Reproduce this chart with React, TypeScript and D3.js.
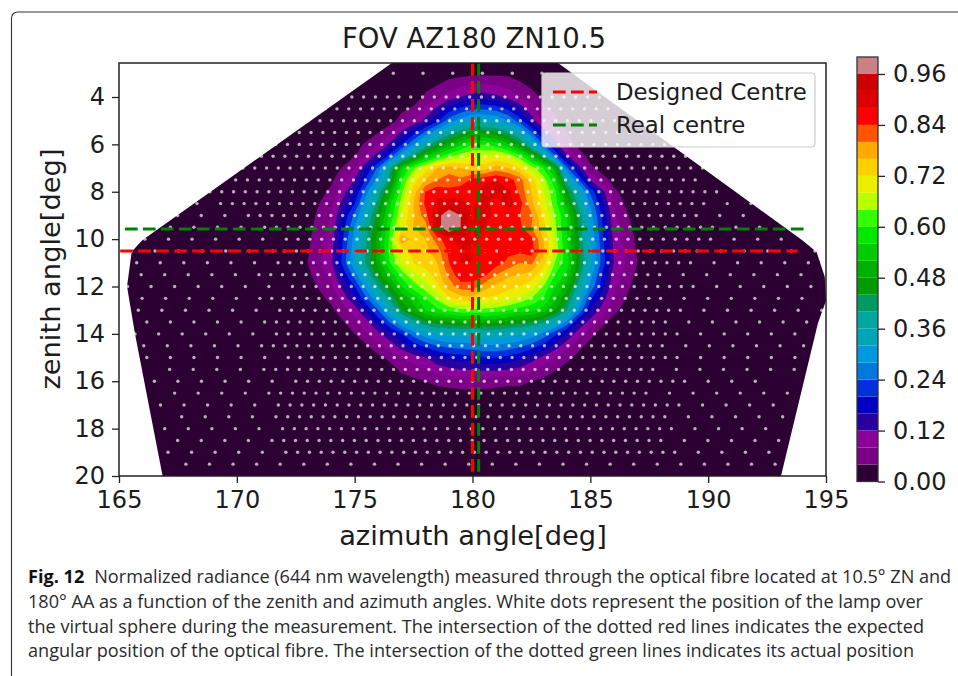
import { useEffect, useRef } from "react";
import * as d3 from "d3";

// normalized radiance; the grid is finer around the core
const gridAzimuth = [171, 172, 173, 174, 175, 176, 176.5, 177, 177.5, 178, 178.5, 179, 179.5, 180, 180.5, 181, 181.5, 182, 182.5, 183, 183.5, 184, 185, 186, 187, 188, 189];
const gridZenith = [2, 3, 4, 5, 6, 6.5, 7, 7.5, 8, 8.5, 9, 9.5, 10, 10.5, 11, 11.5, 12, 12.5, 13, 14, 15, 16, 17, 18];
const radiance = [
  [0, 0, 0, 0, 0, 0, 0, 0, 0, 0, 0, 0, 0, 0, 0, 0, 0, 0, 0, 0, 0, 0, 0, 0, 0, 0, 0],
  [0, 0, 0, 0, 0, 0, 0, 0, 0, 0, 0.01, 0.02, 0.025, 0.03, 0.03, 0.03, 0.03, 0.02, 0, 0, 0, 0, 0, 0, 0, 0, 0],
  [0, 0, 0, 0, 0, 0, 0, 0, 0.01, 0.05, 0.07, 0.1, 0.12, 0.14, 0.14, 0.13, 0.11, 0.08, 0.06, 0.03, 0.01, 0, 0, 0, 0, 0, 0],
  [0, 0, 0, 0, 0, 0, 0.02, 0.06, 0.09, 0.13, 0.19, 0.26, 0.3, 0.33, 0.33, 0.32, 0.28, 0.22, 0.14, 0.07, 0.05, 0.02, 0, 0, 0, 0, 0],
  [0, 0, 0, 0, 0.02, 0.08, 0.13, 0.2, 0.28, 0.37, 0.44, 0.5, 0.55, 0.6, 0.6, 0.58, 0.53, 0.46, 0.35, 0.24, 0.14, 0.06, 0, 0, 0, 0, 0],
  [0, 0, 0, 0, 0.04, 0.14, 0.22, 0.32, 0.42, 0.52, 0.58, 0.63, 0.66, 0.68, 0.68, 0.69, 0.67, 0.62, 0.53, 0.41, 0.25, 0.13, 0.02, 0, 0, 0, 0],
  [0, 0, 0, 0.01, 0.08, 0.25, 0.4, 0.55, 0.63, 0.7, 0.76, 0.78, 0.76, 0.74, 0.74, 0.78, 0.76, 0.72, 0.66, 0.6, 0.5, 0.25, 0.05, 0, 0, 0, 0],
  [0, 0, 0, 0.03, 0.12, 0.3, 0.42, 0.6, 0.7, 0.76, 0.8, 0.82, 0.81, 0.85, 0.87, 0.88, 0.86, 0.82, 0.74, 0.66, 0.57, 0.36, 0.12, 0.02, 0, 0, 0],
  [0, 0, 0, 0.05, 0.16, 0.38, 0.5, 0.63, 0.74, 0.84, 0.87, 0.85, 0.87, 0.87, 0.9, 0.9, 0.89, 0.83, 0.76, 0.68, 0.61, 0.46, 0.23, 0.05, 0, 0, 0],
  [0, 0, 0.01, 0.07, 0.2, 0.42, 0.55, 0.66, 0.76, 0.85, 0.89, 0.9, 0.89, 0.87, 0.9, 0.84, 0.9, 0.86, 0.77, 0.7, 0.62, 0.5, 0.27, 0.07, 0, 0, 0],
  [0, 0, 0.02, 0.08, 0.25, 0.46, 0.57, 0.68, 0.76, 0.82, 0.93, 1.02, 0.96, 0.9, 0.9, 0.87, 0.87, 0.84, 0.81, 0.72, 0.64, 0.56, 0.3, 0.09, 0.01, 0, 0],
  [0, 0, 0.025, 0.09, 0.28, 0.48, 0.6, 0.7, 0.76, 0.78, 0.93, 1.02, 0.96, 0.9, 0.88, 0.87, 0.85, 0.85, 0.8, 0.74, 0.65, 0.56, 0.31, 0.1, 0.02, 0, 0],
  [0, 0, 0.03, 0.1, 0.3, 0.5, 0.61, 0.8, 0.74, 0.76, 0.82, 0.87, 0.9, 0.89, 0.87, 0.87, 0.87, 0.86, 0.85, 0.76, 0.66, 0.56, 0.32, 0.11, 0.03, 0, 0],
  [0, 0, 0.035, 0.105, 0.31, 0.5, 0.62, 0.7, 0.73, 0.75, 0.78, 0.85, 0.88, 0.88, 0.87, 0.86, 0.85, 0.85, 0.86, 0.77, 0.67, 0.57, 0.33, 0.115, 0.035, 0, 0],
  [0, 0, 0.04, 0.11, 0.32, 0.5, 0.6, 0.68, 0.72, 0.74, 0.76, 0.84, 0.88, 0.88, 0.87, 0.86, 0.83, 0.8, 0.81, 0.74, 0.64, 0.58, 0.33, 0.12, 0.04, 0, 0],
  [0, 0, 0.03, 0.09, 0.26, 0.46, 0.54, 0.62, 0.67, 0.7, 0.74, 0.81, 0.87, 0.87, 0.85, 0.8, 0.77, 0.76, 0.74, 0.7, 0.6, 0.55, 0.3, 0.1, 0.03, 0, 0],
  [0, 0, 0.02, 0.07, 0.2, 0.4, 0.47, 0.56, 0.62, 0.66, 0.71, 0.78, 0.82, 0.82, 0.78, 0.75, 0.73, 0.72, 0.7, 0.64, 0.56, 0.5, 0.27, 0.09, 0.02, 0, 0],
  [0, 0, 0.01, 0.05, 0.15, 0.32, 0.41, 0.49, 0.54, 0.6, 0.65, 0.71, 0.74, 0.75, 0.72, 0.71, 0.7, 0.67, 0.64, 0.6, 0.53, 0.45, 0.21, 0.07, 0.01, 0, 0],
  [0, 0, 0, 0.03, 0.1, 0.24, 0.34, 0.44, 0.5, 0.56, 0.59, 0.61, 0.63, 0.63, 0.63, 0.62, 0.6, 0.58, 0.57, 0.54, 0.48, 0.4, 0.16, 0.05, 0, 0, 0],
  [0, 0, 0, 0.01, 0.04, 0.11, 0.15, 0.2, 0.26, 0.31, 0.33, 0.34, 0.34, 0.34, 0.35, 0.35, 0.34, 0.33, 0.31, 0.27, 0.21, 0.15, 0.05, 0, 0, 0, 0],
  [0, 0, 0, 0, 0.01, 0.03, 0.05, 0.08, 0.1, 0.12, 0.15, 0.17, 0.18, 0.19, 0.2, 0.2, 0.19, 0.17, 0.14, 0.11, 0.08, 0.05, 0.01, 0, 0, 0, 0],
  [0, 0, 0, 0, 0, 0, 0, 0.02, 0.03, 0.04, 0.05, 0.055, 0.06, 0.06, 0.06, 0.055, 0.05, 0.05, 0.04, 0.03, 0.01, 0, 0, 0, 0, 0, 0],
  [0, 0, 0, 0, 0, 0, 0, 0, 0, 0, 0, 0, 0, 0, 0, 0, 0, 0, 0, 0, 0, 0, 0, 0, 0, 0, 0],
  [0, 0, 0, 0, 0, 0, 0, 0, 0, 0, 0, 0, 0, 0, 0, 0, 0, 0, 0, 0, 0, 0, 0, 0, 0, 0, 0],
];

const levels = d3.range(0, 25).map((i) => i * 0.04);
const levelColors = [
  "#2d0033", "#7a0085", "#8a0098", "#2800a0", "#0000c4", "#0030dc", "#0078dc", "#0099dd", "#00a5b8",
  "#00a6a0", "#009a62", "#009c00", "#00b000", "#00cc00", "#00e800", "#33ff00", "#b8ff00", "#ecee00",
  "#ffd000", "#ffaa00", "#ff5500", "#ff0000", "#dc0000", "#cc0000", "#cb8086",
];

// outline of the measured area, [azimuth, zenith]
const hull: [number, number][] = [
  [176.58, 2.56], [166, 10.04], [165.75, 10.3], [165.54, 10.53], [165.34, 12], [165.68, 14], [166.85, 20],
  [193.09, 20], [194.66, 13.54], [195, 12.6], [194.95, 11.6], [194.6, 10.54], [193.98, 10.04], [183.63, 2.56],
];

// lamp positions: 1 deg steps outside innerStart..innerEnd, 0.5 deg inside
const topRowZenith = 3;
const topRowAzimuth = [176.64, 177.9, 179.16, 180.42, 181.69, 182.95];
const rowZenith = d3.range(4, 20, 0.5);
const rowFirst = [174.38, 173.75, 173.03, 172.65, 171.65, 171.04, 170.26, 169.95, 168.86, 168.31, 167.49, 167.18, 166.1, 165.53, 165.75, 165.94, 165.36, 165.98, 165.82, 166.18, 165.68, 166.05, 166.18, 167.15, 166.5, 167.36, 166.76, 167.66, 166.94, 167.49, 167.08, 167.84];
const rowInnerStart = [174.38, 173.75, 173.03, 172.65, 171.65, 171.04, 170.26, 169.95, 168.86, 169.31, 170.5, 171.18, 171.12, 170.57, 171.75, 170.94, 171.38, 170.98, 171.82, 171.18, 171.68, 171.06, 172.19, 171.14, 172.51, 171.37, 171.75, 171.65, 171.95, 171.49, 172.09, 192];
const rowInnerEnd = [185.4, 186.2, 186.9, 187.6, 188.3, 189.08, 189.76, 189.93, 190.38, 189.82, 189.5, 189.7, 189.63, 189.5, 189.25, 187.94, 188.88, 187.98, 188.81, 187.7, 188.67, 188.06, 188.67, 187.65, 188.52, 187.36, 188.76, 188.16, 188.45, 187.99, 188.59, 192];
const rowLast = [185.4, 186.2, 186.9, 187.6, 188.3, 189.08, 189.76, 189.93, 190.38, 191.82, 192.0, 192.7, 193.65, 194.6, 194.27, 193.96, 194.9, 193.99, 194.81, 194.71, 193.69, 194.06, 193.69, 193.66, 192.52, 193.37, 192.76, 193.16, 192.43, 193.0, 192.58, 192.86];

const xTicks = [165, 170, 175, 180, 185, 190, 195];
const yTicks = [4, 6, 8, 10, 12, 14, 16, 18, 20];
const barTicks = [0, 0.12, 0.24, 0.36, 0.48, 0.6, 0.72, 0.84, 0.96];

const designedAz = 180;
const designedZn = 10.5;
const realAz = 180.26;
const realZn = 9.57;
const designedSpan = [165.05, 193.8];
const realSpan = [165.25, 194.05];

const captionBold = "Fig. 12";
const captionLines = [
  "Normalized radiance (644 nm wavelength) measured through the optical fibre located at 10.5° ZN and",
  "180° AA as a function of the zenith and azimuth angles. White dots represent the position of the lamp over",
  "the virtual sphere during the measurement. The intersection of the dotted red lines indicates the expected",
  "angular position of the optical fibre. The intersection of the dotted green lines indicates its actual position",
];

const sans = "DejaVu Sans";
const ink = "#1c1c1c";

function lampPositions() {
  const points: [number, number][] = topRowAzimuth.map((az) => [az, topRowZenith]);
  rowZenith.forEach((zn, i) => {
    let az = rowFirst[i];
    while (az <= rowLast[i] + 0.01) {
      points.push([az, zn]);
      az += az >= rowInnerStart[i] - 0.01 && az < rowInnerEnd[i] - 0.01 ? 0.5 : 1;
    }
  });
  return points;
}

export default function App() {
  const svgRef = useRef<SVGSVGElement>(null);

  useEffect(() => {
    if (!svgRef.current) return;
    const svg = d3.select(svgRef.current);
    svg.selectAll("*").remove();

    const left = 119, right = 826, top = 63, bottom = 476;
    const x = d3.scaleLinear().domain([165, 195]).range([left, right]);
    const y = d3.scaleLinear().domain([4, 20]).range([97, bottom]);
    const barY = d3.scaleLinear().domain([0, 1]).range([481.5, 57]);
    const zenithTop = y.invert(top);

    // card border of the figure
    svg.append("path")
      .attr("d", "M11.5,676V18a6,6 0 0 1 6,-6H958")
      .attr("fill", "none").attr("stroke", "#333").attr("stroke-width", 1.1);

    svg.append("text").attr("x", 474).attr("y", 48).attr("text-anchor", "middle")
      .attr("font-family", sans).attr("font-size", 27.5).attr("fill", ink).text("FOV AZ180 ZN10.5");

    const defs = svg.append("defs");
    defs.append("clipPath").attr("id", "plot-clip").append("rect")
      .attr("x", left).attr("y", top).attr("width", right - left).attr("height", bottom - top);

    const plot = svg.append("g").attr("clip-path", "url(#plot-clip)");
    const line = d3.line<[number, number]>().x((d) => x(d[0])).y((d) => y(d[1]));

    plot.append("path").attr("d", line(hull.map(([a, z]) => [a, Math.max(z, zenithTop)])) + "Z").attr("fill", levelColors[0]);

    const nx = gridAzimuth.length, ny = gridZenith.length;
    const bands = d3.contours().size([nx, ny]).thresholds(levels.slice(1))(radiance.flat());
    // grid index -> angle, piecewise because the grid is not even
    const azAt = d3.scaleLinear().domain(d3.range(nx)).range(gridAzimuth);
    const znAt = d3.scaleLinear().domain(d3.range(ny)).range(gridZenith);
    const gridPath = d3.geoPath(d3.geoTransform({
      point(px, py) {
        this.stream.point(x(azAt(px - 0.5)), y(znAt(py - 0.5)));
      },
    }));
    plot.append("g").selectAll("path").data(bands).join("path")
      .attr("d", (d) => gridPath(d as any))
      .attr("fill", (_, i) => levelColors[i + 1]);

    plot.append("g").selectAll("circle").data(lampPositions()).join("circle")
      .attr("cx", (d) => x(d[0])).attr("cy", (d) => y(d[1])).attr("r", 1.7)
      .attr("fill", "#fff").attr("fill-opacity", 0.68);

    const dashed = (sel: any, color: string) =>
      sel.attr("stroke", color).attr("stroke-width", 3).attr("stroke-dasharray", "12.7 5.3").attr("fill", "none");

    dashed(plot.append("path").attr("d", line([[designedSpan[0], designedZn], [designedSpan[1], designedZn]])), "#ff0000");
    dashed(plot.append("path").attr("d", line([[designedAz, zenithTop], [designedAz, 20]])), "#ff0000");
    dashed(plot.append("path").attr("d", line([[realSpan[0], realZn], [realSpan[1], realZn]])), "#008000");
    dashed(plot.append("path").attr("d", line([[realAz, zenithTop], [realAz, 20]])), "#008000");

    // legend
    const legend = svg.append("g");
    legend.append("rect").attr("x", 542).attr("y", 73).attr("width", 273).attr("height", 74).attr("rx", 3.5)
      .attr("fill", "#fff").attr("fill-opacity", 0.8).attr("stroke", "#ccc").attr("stroke-width", 1.2);
    [
      { label: "Designed Centre", color: "#ff0000", ly: 92 },
      { label: "Real centre", color: "#008000", ly: 125 },
    ].forEach(({ label, color, ly }) => {
      dashed(legend.append("path").attr("d", `M553,${ly}H597`), color);
      legend.append("text").attr("x", 616).attr("y", ly + 8).attr("font-family", sans)
        .attr("font-size", 22.8).attr("fill", ink).text(label);
    });

    // axes
    const styleAxis = (g: any) => {
      g.selectAll("text").attr("font-family", sans).attr("font-size", 24).attr("fill", ink);
      g.selectAll("line").attr("stroke", "#222").attr("stroke-width", 1.3);
      g.select(".domain").remove();
    };
    svg.append("g").attr("transform", `translate(0,${bottom})`)
      .call(d3.axisBottom(x).tickValues(xTicks).tickSize(7).tickPadding(8).tickFormat(d3.format("d")) as any)
      .call(styleAxis);
    svg.append("g").attr("transform", `translate(${left},0)`)
      .call(d3.axisLeft(y).tickValues(yTicks).tickSize(7).tickPadding(7).tickFormat(d3.format("d")) as any)
      .call(styleAxis);
    svg.append("rect").attr("x", left).attr("y", top).attr("width", right - left).attr("height", bottom - top)
      .attr("fill", "none").attr("stroke", "#222").attr("stroke-width", 1.5);

    svg.append("text").attr("x", 473).attr("y", 545).attr("text-anchor", "middle")
      .attr("font-family", sans).attr("font-size", 27.3).attr("fill", ink).text("azimuth angle[deg]");
    svg.append("text").attr("transform", "translate(60,269) rotate(-90)").attr("text-anchor", "middle")
      .attr("font-family", sans).attr("font-size", 27.3).attr("fill", ink).text("zenith angle[deg]");

    // colorbar
    const barX = 857, barW = 21;
    svg.append("g").selectAll("rect").data(levels).join("rect")
      .attr("x", barX).attr("width", barW)
      .attr("y", (d) => barY(d + 0.04)).attr("height", (d) => barY(d) - barY(d + 0.04))
      .attr("fill", (_, i) => levelColors[i]);
    svg.append("rect").attr("x", barX).attr("y", barY(1)).attr("width", barW).attr("height", barY(0) - barY(1))
      .attr("fill", "none").attr("stroke", "#333").attr("stroke-width", 1.3);
    svg.append("g").attr("transform", `translate(${barX + barW},0)`)
      .call(d3.axisRight(barY).tickValues(barTicks).tickSize(7).tickPadding(8).tickFormat(d3.format(".2f")) as any)
      .call(styleAxis);

    // caption
    const caption = svg.append("g").attr("font-family", "'Open Sans'").attr("font-size", 18.1).attr("fill", "#2a2a2a");
    const first = caption.append("text").attr("x", 28).attr("y", 583);
    first.append("tspan").attr("font-weight", 700).attr("fill", "#111").text(captionBold);
    first.append("tspan").attr("dx", 10).text(captionLines[0]);
    captionLines.slice(1).forEach((txt, i) => {
      caption.append("text").attr("x", 28).attr("y", 608 + i * 24.7).text(txt);
    });
  }, []);

  return <svg ref={svgRef} width={958} height={676} style={{ position: "absolute", left: 0, top: 0, background: "#fff" }} />;
}
